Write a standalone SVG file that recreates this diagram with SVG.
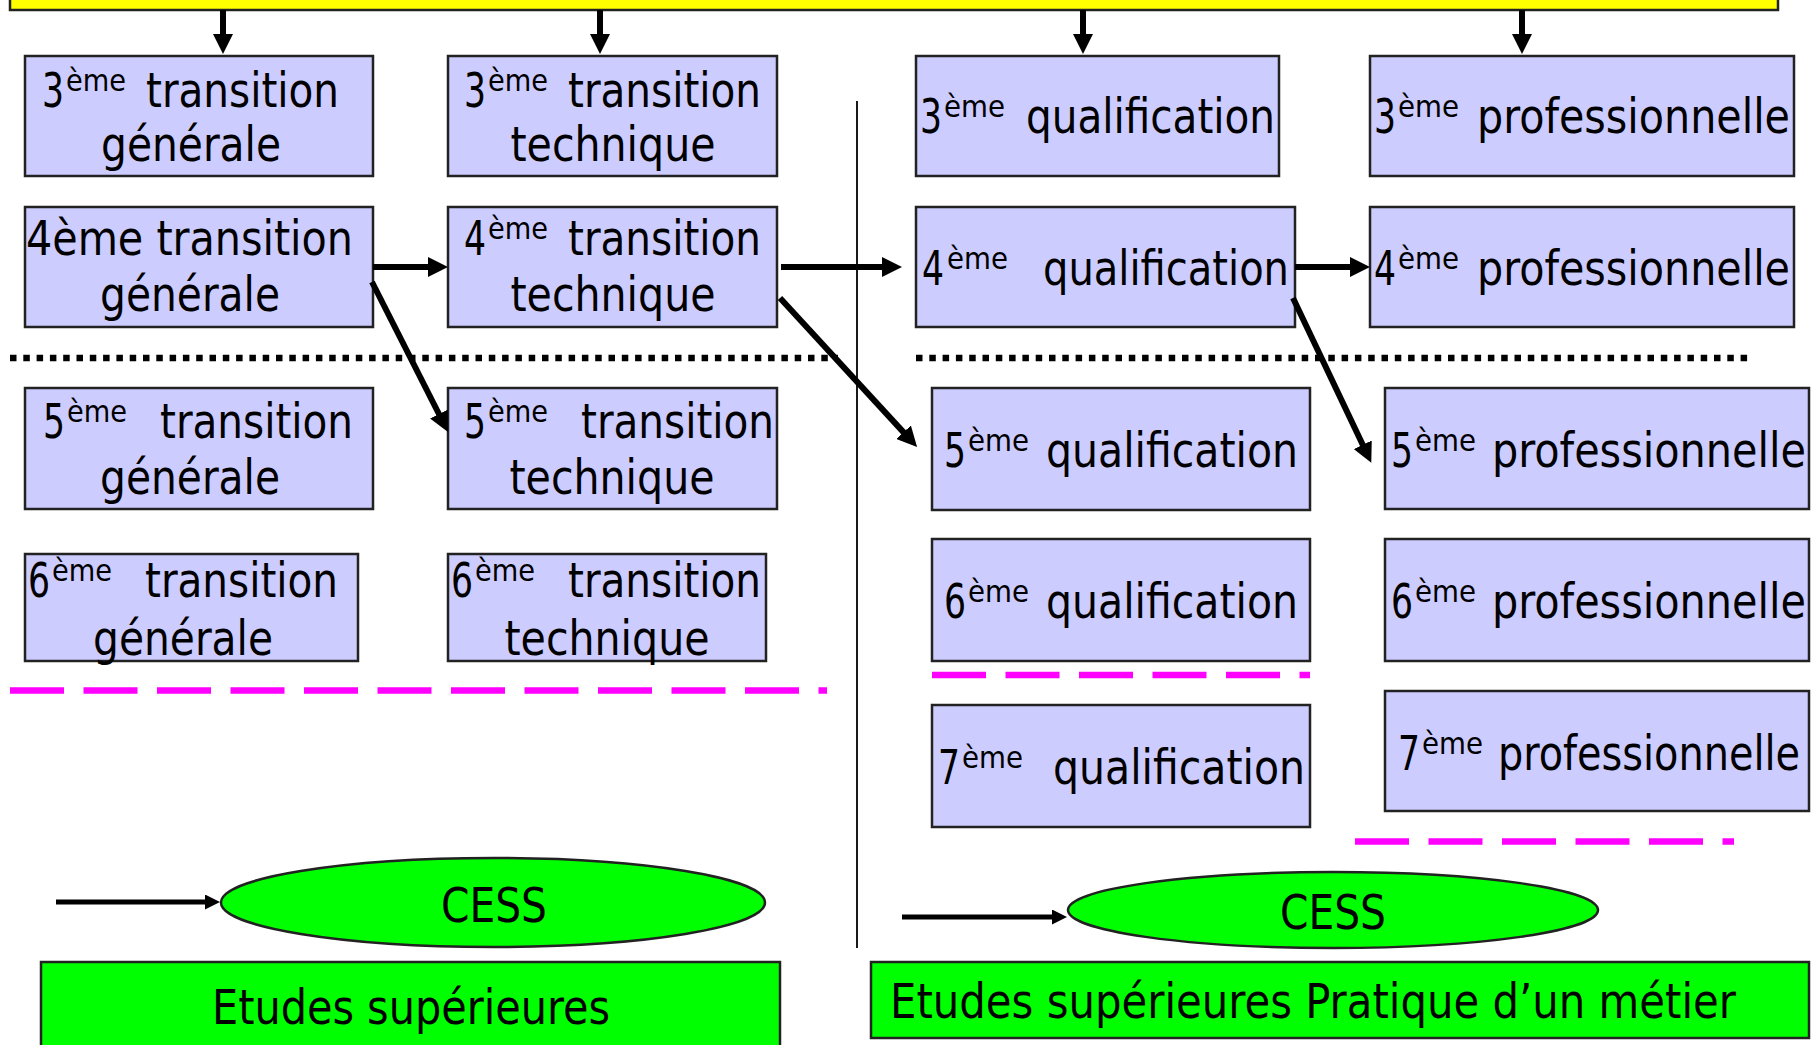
<svg xmlns="http://www.w3.org/2000/svg" width="1818" height="1045" viewBox="0 0 1818 1045">
<defs>
<style>
.box{fill:#CCCCFF;stroke:#222;stroke-width:2.5}
.t{font-family:"DejaVu Sans Condensed","DejaVu Sans",sans-serif;font-stretch:condensed;font-size:48px;fill:#000}
.sup{font-size:31px}
.mid{text-anchor:middle}
.ar{stroke:#000;stroke-width:6;fill:none;marker-end:url(#ah)}
.ars{stroke:#000;stroke-width:5;fill:none;marker-end:url(#ahs)}
.dot{stroke:#000;stroke-width:6.5;stroke-dasharray:6.5 6.8;fill:none}
.mag{stroke:#FF00FF;stroke-width:6.5;stroke-dasharray:54 19.5;fill:none}
.green{fill:#00FF00;stroke:#222;stroke-width:2.5}
</style>
<marker id="ah" markerUnits="userSpaceOnUse" markerWidth="20" markerHeight="20" refX="10" refY="10" orient="auto"><path d="M0,0 L20,10 L0,20 z" fill="#000"/></marker>
<marker id="ahs" markerUnits="userSpaceOnUse" markerWidth="15" markerHeight="15" refX="8" refY="7.5" orient="auto"><path d="M0,0 L15,7.5 L0,15 z" fill="#000"/></marker>
</defs>
<rect width="1818" height="1045" fill="#fff"/>

<g id="header"><rect x="10" y="-20" width="1768" height="30" fill="#FFFF00" stroke="#222" stroke-width="2.5"/></g>

<g id="separators">
<line x1="857" y1="101" x2="857" y2="948" stroke="#000" stroke-width="1.8"/>
<line class="dot" x1="10" y1="358" x2="838" y2="358"/>
<line class="dot" x1="916" y1="358" x2="1751" y2="358"/>
<line class="mag" x1="10" y1="690.5" x2="827" y2="690.5"/>
<line class="mag" x1="932" y1="675" x2="1310" y2="675"/>
<line class="mag" x1="1355" y1="841.5" x2="1734" y2="841.5"/>
</g>

<g id="n3tg"><rect class="box" x="25" y="56" width="348" height="120"/>
<text class="t" x="42" y="107" textLength="22" lengthAdjust="spacingAndGlyphs">3</text><text class="t sup" x="66" y="91" textLength="60" lengthAdjust="spacingAndGlyphs">ème</text><text class="t" x="146" y="107" textLength="193" lengthAdjust="spacingAndGlyphs">transition</text>
<text class="t mid" x="191" y="161" textLength="180" lengthAdjust="spacingAndGlyphs">générale</text></g>
<g id="n3tt"><rect class="box" x="448" y="56" width="329" height="120"/>
<text class="t" x="464" y="107" textLength="22" lengthAdjust="spacingAndGlyphs">3</text><text class="t sup" x="488" y="91" textLength="60" lengthAdjust="spacingAndGlyphs">ème</text><text class="t" x="568" y="107" textLength="193" lengthAdjust="spacingAndGlyphs">transition</text>
<text class="t mid" x="613" y="161" textLength="205" lengthAdjust="spacingAndGlyphs">technique</text></g>
<g id="n4tg"><rect class="box" x="25" y="207" width="348" height="120"/>
<text class="t" x="26" y="255" textLength="327" lengthAdjust="spacingAndGlyphs">4ème transition</text>
<text class="t mid" x="190" y="311" textLength="180" lengthAdjust="spacingAndGlyphs">générale</text></g>
<g id="n4tt"><rect class="box" x="448" y="207" width="329" height="120"/>
<text class="t" x="464" y="255" textLength="22" lengthAdjust="spacingAndGlyphs">4</text><text class="t sup" x="488" y="239" textLength="60" lengthAdjust="spacingAndGlyphs">ème</text><text class="t" x="568" y="255" textLength="193" lengthAdjust="spacingAndGlyphs">transition</text>
<text class="t mid" x="613" y="311" textLength="205" lengthAdjust="spacingAndGlyphs">technique</text></g>
<g id="n5tg"><rect class="box" x="25" y="388" width="348" height="121"/>
<text class="t" x="43" y="438" textLength="22" lengthAdjust="spacingAndGlyphs">5</text><text class="t sup" x="67" y="422" textLength="60" lengthAdjust="spacingAndGlyphs">ème</text><text class="t" x="160" y="438" textLength="193" lengthAdjust="spacingAndGlyphs">transition</text>
<text class="t mid" x="190" y="494" textLength="180" lengthAdjust="spacingAndGlyphs">générale</text></g>
<g id="n5tt"><rect class="box" x="448" y="388" width="329" height="121"/>
<text class="t" x="464" y="438" textLength="22" lengthAdjust="spacingAndGlyphs">5</text><text class="t sup" x="488" y="422" textLength="60" lengthAdjust="spacingAndGlyphs">ème</text><text class="t" x="581" y="438" textLength="193" lengthAdjust="spacingAndGlyphs">transition</text>
<text class="t mid" x="612" y="494" textLength="205" lengthAdjust="spacingAndGlyphs">technique</text></g>
<g id="n6tg"><rect class="box" x="25" y="554" width="333" height="107"/>
<text class="t" x="28" y="597" textLength="22" lengthAdjust="spacingAndGlyphs">6</text><text class="t sup" x="52" y="581" textLength="60" lengthAdjust="spacingAndGlyphs">ème</text><text class="t" x="145" y="597" textLength="193" lengthAdjust="spacingAndGlyphs">transition</text>
<text class="t mid" x="183" y="655" textLength="180" lengthAdjust="spacingAndGlyphs">générale</text></g>
<g id="n6tt"><rect class="box" x="448" y="554" width="318" height="107"/>
<text class="t" x="451" y="597" textLength="22" lengthAdjust="spacingAndGlyphs">6</text><text class="t sup" x="475" y="581" textLength="60" lengthAdjust="spacingAndGlyphs">ème</text><text class="t" x="568" y="597" textLength="193" lengthAdjust="spacingAndGlyphs">transition</text>
<text class="t mid" x="607" y="655" textLength="205" lengthAdjust="spacingAndGlyphs">technique</text></g>

<g id="n3q"><rect class="box" x="916" y="56" width="363" height="120"/>
<text class="t" x="920" y="133" textLength="22" lengthAdjust="spacingAndGlyphs">3</text><text class="t sup" x="944" y="117" textLength="61" lengthAdjust="spacingAndGlyphs">ème</text><text class="t" x="1026" y="133" textLength="249" lengthAdjust="spacingAndGlyphs">qualification</text></g>
<g id="n3p"><rect class="box" x="1370" y="56" width="424" height="120"/>
<text class="t" x="1374" y="133" textLength="22" lengthAdjust="spacingAndGlyphs">3</text><text class="t sup" x="1398" y="117" textLength="61" lengthAdjust="spacingAndGlyphs">ème</text><text class="t" x="1477" y="133" textLength="313" lengthAdjust="spacingAndGlyphs">professionnelle</text></g>
<g id="n4q"><rect class="box" x="916" y="207" width="379" height="120"/>
<text class="t" x="922" y="285" textLength="22" lengthAdjust="spacingAndGlyphs">4</text><text class="t sup" x="947" y="269" textLength="61" lengthAdjust="spacingAndGlyphs">ème</text><text class="t" x="1043" y="285" textLength="246" lengthAdjust="spacingAndGlyphs">qualification</text></g>
<g id="n4p"><rect class="box" x="1370" y="207" width="424" height="120"/>
<text class="t" x="1374" y="285" textLength="22" lengthAdjust="spacingAndGlyphs">4</text><text class="t sup" x="1398" y="269" textLength="61" lengthAdjust="spacingAndGlyphs">ème</text><text class="t" x="1477" y="285" textLength="313" lengthAdjust="spacingAndGlyphs">professionnelle</text></g>
<g id="n5q"><rect class="box" x="932" y="388" width="378" height="122"/>
<text class="t" x="944" y="467" textLength="22" lengthAdjust="spacingAndGlyphs">5</text><text class="t sup" x="968" y="451" textLength="61" lengthAdjust="spacingAndGlyphs">ème</text><text class="t" x="1046" y="467" textLength="252" lengthAdjust="spacingAndGlyphs">qualification</text></g>
<g id="n5p"><rect class="box" x="1385" y="388" width="424" height="121"/>
<text class="t" x="1391" y="467" textLength="22" lengthAdjust="spacingAndGlyphs">5</text><text class="t sup" x="1415" y="451" textLength="61" lengthAdjust="spacingAndGlyphs">ème</text><text class="t" x="1492" y="467" textLength="314" lengthAdjust="spacingAndGlyphs">professionnelle</text></g>
<g id="n6q"><rect class="box" x="932" y="539" width="378" height="122"/>
<text class="t" x="944" y="618" textLength="22" lengthAdjust="spacingAndGlyphs">6</text><text class="t sup" x="968" y="602" textLength="61" lengthAdjust="spacingAndGlyphs">ème</text><text class="t" x="1046" y="618" textLength="252" lengthAdjust="spacingAndGlyphs">qualification</text></g>
<g id="n6p"><rect class="box" x="1385" y="539" width="424" height="122"/>
<text class="t" x="1391" y="618" textLength="22" lengthAdjust="spacingAndGlyphs">6</text><text class="t sup" x="1415" y="602" textLength="61" lengthAdjust="spacingAndGlyphs">ème</text><text class="t" x="1492" y="618" textLength="314" lengthAdjust="spacingAndGlyphs">professionnelle</text></g>
<g id="n7q"><rect class="box" x="932" y="705" width="378" height="122"/>
<text class="t" x="938" y="784" textLength="22" lengthAdjust="spacingAndGlyphs">7</text><text class="t sup" x="962" y="768" textLength="61" lengthAdjust="spacingAndGlyphs">ème</text><text class="t" x="1053" y="784" textLength="252" lengthAdjust="spacingAndGlyphs">qualification</text></g>
<g id="n7p"><rect class="box" x="1385" y="691" width="424" height="120"/>
<text class="t" x="1398" y="770" textLength="22" lengthAdjust="spacingAndGlyphs">7</text><text class="t sup" x="1422" y="754" textLength="61" lengthAdjust="spacingAndGlyphs">ème</text><text class="t" x="1498" y="770" textLength="302" lengthAdjust="spacingAndGlyphs">professionnelle</text></g>

<g id="cess1"><ellipse cx="493" cy="902.5" rx="272" ry="44.5" class="green"/><text class="t mid" x="494" y="922" textLength="106" lengthAdjust="spacingAndGlyphs">CESS</text></g>
<g id="cess2"><ellipse cx="1333" cy="910" rx="265" ry="38" class="green"/><text class="t mid" x="1333" y="929" textLength="106" lengthAdjust="spacingAndGlyphs">CESS</text></g>
<g id="etudes1"><rect class="green" x="41" y="962" width="739" height="100"/><text class="t mid" x="411" y="1024" textLength="398" lengthAdjust="spacingAndGlyphs">Etudes supérieures</text></g>
<g id="etudes2"><rect class="green" x="871" y="962" width="938" height="76"/><text class="t" x="890" y="1018" textLength="846" lengthAdjust="spacingAndGlyphs">Etudes supérieures Pratique d’un métier</text></g>

<g id="connectors">
<line class="ar" x1="223" y1="10" x2="223" y2="44"/>
<line class="ar" x1="600" y1="10" x2="600" y2="44"/>
<line class="ar" x1="1083" y1="10" x2="1083" y2="44"/>
<line class="ar" x1="1522" y1="10" x2="1522" y2="44"/>
<line class="ar" x1="373" y1="267" x2="438" y2="267"/>
<line class="ar" x1="781" y1="267" x2="892" y2="267"/>
<line class="ar" x1="1295" y1="267" x2="1360" y2="267"/>
<line class="ar" x1="372" y1="282" x2="443.5" y2="423"/>
<line class="ar" x1="780" y1="298" x2="910.3" y2="439.6"/>
<line class="ar" x1="1293" y1="298" x2="1367" y2="453.8"/>
<line class="ars" x1="56" y1="902" x2="213" y2="902"/>
<line class="ars" x1="902" y1="917" x2="1060" y2="917"/>
</g>
</svg>
